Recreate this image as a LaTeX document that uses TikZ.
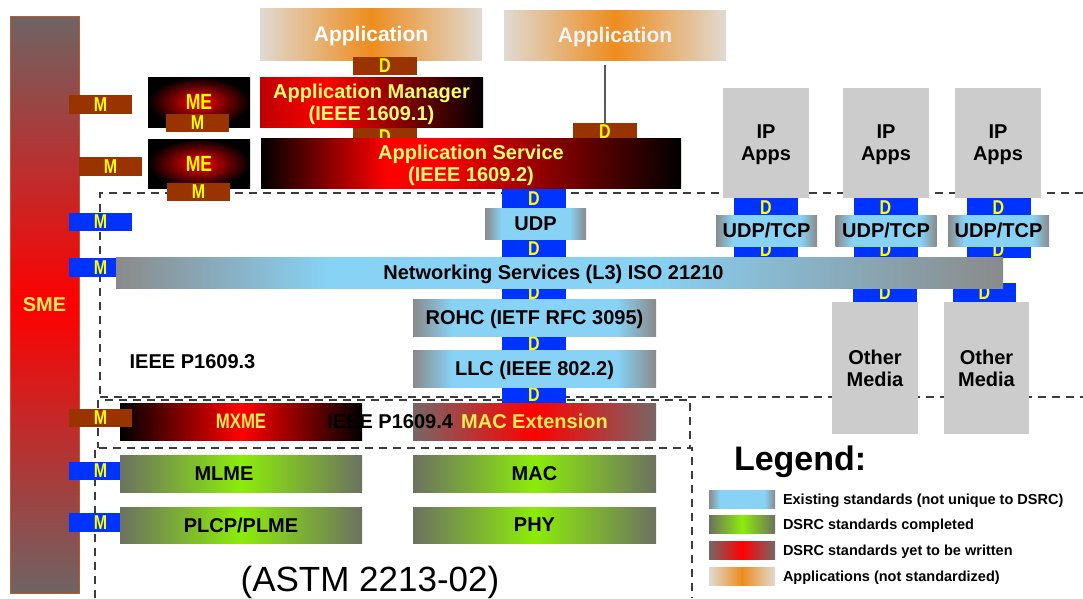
\documentclass[tikz,border=0pt]{standalone}
\usepackage{fontspec}
\setmainfont{Liberation Sans}
\newfontfamily\narrowbf[FakeStretch=0.8]{Liberation Sans Bold}
\usetikzlibrary{positioning}

\newcommand{\fsz}[2]{\fontsize{#1}{#2}\selectfont}

\definecolor{tabbrown}{RGB}{153,51,0}
\definecolor{tabblue}{RGB}{0,51,255}
\definecolor{tabtext}{RGB}{255,255,0}
\definecolor{exgray}{RGB}{138,138,138}
\definecolor{exblue}{RGB}{135,210,245}
\definecolor{gngray}{RGB}{108,114,96}
\definecolor{gnlime}{RGB}{140,236,10}
\definecolor{rdgray}{RGB}{120,102,102}
\definecolor{apgray}{RGB}{224,218,210}
\definecolor{aporange}{RGB}{238,140,30}
\definecolor{ipgray}{RGB}{204,204,204}
\definecolor{paleyellow}{RGB}{255,255,110}
\definecolor{redtext}{RGB}{255,236,80}
\definecolor{smegray}{RGB}{110,100,100}
\definecolor{smeedge}{RGB}{190,90,50}
\definecolor{framegray}{RGB}{60,60,60}
\definecolor{mgrred}{RGB}{190,0,0}

\pgfdeclarehorizontalshading{existing}{100bp}{color(0bp)=(exgray); color(25bp)=(exgray);
  color(33bp)=(exblue); color(67bp)=(exblue); color(75bp)=(exgray); color(100bp)=(exgray)}
\pgfdeclarehorizontalshading{netbar}{100bp}{color(0bp)=(exgray); color(25bp)=(exgray);
  color(37bp)=(exblue); color(55bp)=(exblue); color(75bp)=(exgray); color(100bp)=(exgray)}
\pgfdeclarehorizontalshading{manager}{100bp}{color(0bp)=(mgrred); color(25bp)=(mgrred);
  color(40bp)=(red); color(75bp)=(black); color(100bp)=(black)}
\pgfdeclarehorizontalshading{service}{100bp}{color(0bp)=(black); color(25bp)=(black);
  color(40bp)=(red); color(46bp)=(red); color(75bp)=(black); color(100bp)=(black)}

\begin{document}
\begin{tikzpicture}[
  x=1pt, y=-1pt,
  every node/.style={inner sep=0pt, outer sep=0pt, align=center, text depth=0pt,
    font=\bfseries\fsz{20pt}{22pt}},
  sized/.style 2 args={minimum width=#1pt, minimum height=#2pt},
  mtab/.style={fill=tabbrown, text=tabtext, font=\narrowbf\fsz{20pt}{20pt}},
  btab/.style={fill=tabblue, text=tabtext, font=\narrowbf\fsz{20pt}{20pt}},
  melayer/.style={inner color=red, outer color=black, text=tabtext,
    font=\narrowbf\fsz{22pt}{22pt}},
  appbox/.style={left color=apgray, right color=apgray, middle color=aporange,
    text=white, font=\bfseries\fsz{21pt}{22pt}},
  exstd/.style={shading=existing, text=black},
  greenbar/.style={left color=gngray, right color=gngray, middle color=gnlime, text=black},
  redbar/.style={left color=rdgray, right color=rdgray, middle color=red, text=redtext},
  grayapp/.style={fill=ipgray, text=black},
  legtext/.style={font=\bfseries\fsz{14.5pt}{16pt}},
  stdframe/.style={draw=framegray, dash pattern=on 8pt off 6pt, line width=1.2pt},
  applink/.style={draw=black!65, line width=1.5pt}
]
\useasboundingbox (0,0) rectangle (1083,598);

% dashed frames of the standards
\draw[stdframe] (1083,193) -- (100,193) -- (100,398);
\draw[stdframe] (100,397) -- (1083,397);
\draw[stdframe] (105,400) -- (690,400) -- (690,448);
\draw[stdframe] (98,400) -- (98,448);
\draw[stdframe] (95,598) -- (95,448) -- (692,448) -- (692,598);

\node (sme) [sized={69}{577}, top color=smegray, bottom color=smegray, middle color=red,
  draw=smeedge, line width=0.8pt, text=redtext] at (44.5,304.5) {SME};

% tabs partly hidden by the layers
\node (mD) [btab, sized={63}{19}] at (100.5,267.5) {M};
\node (mE) [btab, sized={63}{18}] at (100.5,470.5) {M};
\node (mF) [btab, sized={63}{19}] at (100.5,522.5) {M};
\node (dB) [mtab, sized={64}{18}] at (385,137) {D};
\node (dC) [mtab, sized={64}{18}] at (605,132) {D};
\foreach \y/\nm in {199/1, 248.5/2, 293/3, 344/4, 395/5}
  \node (col\nm) [btab, sized={64}{20}] at (534,\y) {D};
\foreach \x/\nm in {766/A, 885.5/B, 998.5/C} {
  \node (ipt\nm) [btab, sized={64}{20}] at (\x,208) {D};
  \node (ipb\nm) [btab, sized={64}{16}] at (\x,250) {D};
}
\node (omtA) [btab, sized={64}{18}] at (885,293) {D};
\node (omtB) [btab, sized={63}{19}] at (984.5,292.5) {D};

% layers
\node (appA) [appbox, sized={222}{52}] at (371,34) {Application};
\node (appB) [appbox, sized={222}{50}, text=white!92!gray] at (615,35) {Application};
\node (amgr) [shading=manager, sized={223}{50}, text=paleyellow] at (371.5,102)
  {Application Manager\\(IEEE 1609.1)};
\node (asvc) [shading=service, sized={420}{50}, text=paleyellow] at (471,163)
  {Application Service\\(IEEE 1609.2)};
\node (meA) [melayer, sized={102}{50}] at (199,102) {ME};
\node (meB) [melayer, sized={102}{49}] at (199,163.5) {ME};
\node (udp) [exstd, sized={101}{31}] at (535.5,223.5) {UDP};
\node (net) [shading=netbar, sized={887}{31},
  label={[xshift=-6pt]center:Networking Services (L3) ISO 21210}] at (559.5,272.5) {};
\node (rohc) [exstd, sized={243}{37}] at (534.5,317.5) {ROHC (IETF RFC 3095)};
\node (llc) [exstd, sized={243}{37}] at (534.5,368.5) {LLC (IEEE 802.2)};
\foreach \x/\nm in {766/A, 886/B, 998/C}
  \node (ip\nm) [grayapp, sized={86}{110}] at (\x,143) {IP\\Apps};
\foreach \x/\nm in {766.5/A, 886/B, 998.5/C}
  \node (tcp\nm) [exstd, sized={101}{31}] at (\x,230.5) {UDP/TCP};
\node (omA) [grayapp, sized={86}{132}] at (875,368) {Other\\Media};
\node (omB) [grayapp, sized={85}{132}] at (986.5,368) {Other\\Media};
\node (mxme) [left color=black, right color=black, middle color=red, text=redtext,
  font=\narrowbf\fsz{21pt}{22pt}, sized={242}{37}] at (241,421.5) {MXME};
\node (macx) [redbar, sized={243}{37}] at (534.5,421.5) {MAC Extension};
\node (mlme) [greenbar, sized={242}{37},
  label={[xshift=-17pt]center:MLME}] at (241,473.5) {};
\node (mac) [greenbar, sized={243}{37}] at (534.5,473.5) {MAC};
\node (plcp) [greenbar, sized={242}{36}] at (241,525) {PLCP/PLME};
\node (phy) [greenbar, sized={243}{36}] at (534.5,525) {PHY};

% tabs on top
\node (mA) [mtab, sized={63}{19}] at (100.5,104.5) {M};
\node (mB) [mtab, sized={63}{19}] at (110.5,166.5) {M};
\node (mC) [btab, sized={63}{18}] at (100.5,222) {M};
\node (mX) [mtab, sized={63}{18}] at (100.5,418) {M};
\node (meAm) [mtab, sized={63}{18}] at (197.5,123) {M};
\node (meBm) [mtab, sized={63}{18}] at (198.5,192) {M};
\node (dA) [mtab, sized={64}{18}] at (385,66) {D};

\draw[applink, shorten >=5pt] (dC.north) -- (dC.north |- appB.south);

\node (p3) at (192.5,362) {IEEE P1609.3};
\node (p4) [anchor=east] at (453,421.5) {IEEE P1609.4};
\node (astm) [font=\fsz{35pt}{35pt}] at (370,579) {(ASTM 2213-02)};

% legend
\node (legend) [anchor=base west, font=\bfseries\fsz{34pt}{34pt}] at (734,470) {Legend:};
\node (swA) [exstd, sized={66}{18}] at (742,499) {};
\node (swB) [greenbar, sized={66}{18}] at (742,524) {};
\node (swC) [redbar, sized={66}{18}] at (742,550) {};
\node (swD) [appbox, sized={66}{18}] at (742,576) {};
\node (lgA) [legtext, right=8pt of swA] {Existing standards (not unique to DSRC)};
\node (lgB) [legtext, right=8pt of swB] {DSRC standards completed};
\node (lgC) [legtext, right=8pt of swC] {DSRC standards yet to be written};
\node (lgD) [legtext, right=8pt of swD] {Applications (not standardized)};
\end{tikzpicture}
\end{document}
